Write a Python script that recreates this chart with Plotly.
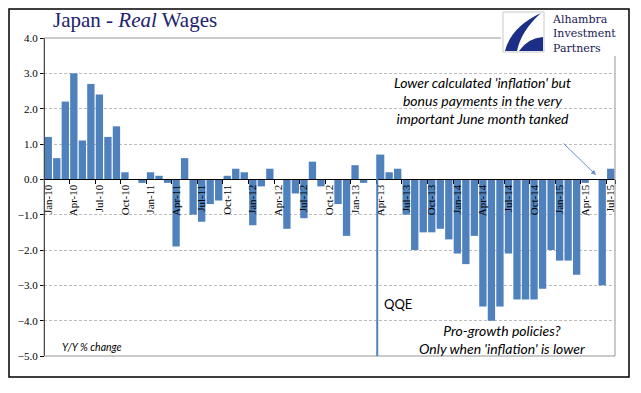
import plotly.graph_objects as go

# ---------------- data ----------------
months = []
for yr in range(10, 16):
    for m in ["Jan", "Feb", "Mar", "Apr", "May", "Jun", "Jul", "Aug", "Sep", "Oct", "Nov", "Dec"]:
        months.append(f"{m}-{yr:02d}")
months = months[:67]  # Jan-10 .. Jul-15

real_wages_2010 = [1.2, 0.6, 2.2, 3.0, 1.1, 2.7, 2.4, 1.2, 1.5, 0.2, 0.0, -0.1]
real_wages_2011 = [0.2, 0.1, -0.1, -1.9, 0.6, -1.0, -1.2, -0.7, -0.6, 0.1, 0.3, 0.2]
real_wages_2012 = [-1.3, -0.2, 0.3, 0.0, -1.4, -0.4, -1.1, 0.5, -0.2, 0.0, -0.7, -1.6]
real_wages_2013 = [0.4, -0.1, 0.0, 0.7, 0.2, 0.3, -1.0, -2.0, -1.5, -1.5, -1.4, -1.7]
real_wages_2014 = [-2.1, -2.4, -1.6, -3.6, -4.0, -3.6, -2.1, -3.4, -3.4, -3.4, -3.1, -2.0]
real_wages_2015 = [-2.3, -2.3, -2.7, -0.1, 0.0, -3.0, 0.3]
values = (real_wages_2010 + real_wages_2011 + real_wages_2012 +
          real_wages_2013 + real_wages_2014 + real_wages_2015)

tick_labels = months[::3]
y_ticks = [4, 3, 2, 1, 0, -1, -2, -3, -4, -5]
qqe_month = "Apr-13"

# ---------------- geometry helpers ----------------
W, H = 641, 393
L, R, T, B = 44, 615, 38, 356


def px(x):
    return (x - L) / (R - L)


def py(y):
    return (B - y) / (B - T)


def path(cmds):
    out = []
    for c in cmds:
        if c[0] in ("M", "L"):
            out.append(f"{c[0]} {px(c[1]):.5f},{py(c[2]):.5f}")
        elif c[0] == "Q":
            out.append(f"Q {px(c[1]):.5f},{py(c[2]):.5f} {px(c[3]):.5f},{py(c[4]):.5f}")
        elif c[0] == "Z":
            out.append("Z")
    return " ".join(out)


BAR = "#4F81BD"
NAVY = "#22226e"
SANS = "Lato, 'Open Sans', sans-serif"
SERIF = "'Liberation Serif', 'DejaVu Serif', serif"

fig = go.Figure()
fig.add_trace(go.Bar(x=months, y=values, marker=dict(color=BAR, line=dict(width=0)),
                     hoverinfo="x+y"))

qqe_idx = months.index(qqe_month) - 0.4

fig.update_layout(
    width=W, height=H,
    margin=dict(l=L, r=W - R, t=T, b=H - B),
    paper_bgcolor="white", plot_bgcolor="white",
    showlegend=False, bargap=0.14,
    xaxis=dict(type="category", categoryorder="array", categoryarray=months,
               tickmode="array", tickvals=tick_labels, ticktext=tick_labels,
               tickangle=-90, anchor="free", position=5 / 9,
               showline=True, linecolor="black", linewidth=1,
               ticks="outside", ticklen=4, tickcolor="black", tickson="boundaries",
               showgrid=False, zeroline=False,
               tickfont=dict(family=SERIF, size=11, color="black"),
               range=[-0.5, len(months) - 0.5], fixedrange=True),
    yaxis=dict(range=[-5, 4], tickvals=y_ticks, tickformat=".1f",
               anchor="free", position=0,
               showline=True, linecolor="black", linewidth=1,
               ticks="outside", ticklen=4, tickcolor="black",
               showgrid=True, gridcolor="#BDBDBD", griddash="3px,2px", gridwidth=1,
               zeroline=False,
               tickfont=dict(family=SERIF, size=11, color="black"), fixedrange=True),
)

shapes = []
# plot area border (grey)
shapes.append(dict(type="rect", xref="paper", yref="paper", x0=0, x1=1, y0=0, y1=1,
                   line=dict(color="#969696", width=1), layer="above"))
# outer frame
shapes.append(dict(type="rect", xref="paper", yref="paper",
                   x0=px(9), x1=px(629), y0=py(377), y1=py(9),
                   line=dict(color="black", width=1.5)))
# QQE vertical line
shapes.append(dict(type="line", xref="x", yref="y", x0=qqe_idx, x1=qqe_idx, y0=0.7, y1=-5,
                   line=dict(color=BAR, width=2), layer="above"))
# white backing for the logo area
shapes.append(dict(type="rect", xref="paper", yref="paper",
                   x0=px(501), x1=px(628), y0=py(56), y1=py(10),
                   fillcolor="white", line=dict(width=0), layer="above"))
# logo box
shapes.append(dict(type="rect", xref="paper", yref="paper",
                   x0=px(503), x1=px(544), y0=py(52), y1=py(12),
                   fillcolor="white", line=dict(color="#C8C8C8", width=1), layer="above"))
# logo swoosh
shapes.append(dict(type="path", xref="paper", yref="paper", layer="above",
                   path=path([("M", 505, 51), ("Q", 511, 27, 541, 13),
                              ("Q", 521, 31, 517, 51), ("Z",)]),
                   fillcolor="#1c2f86", line=dict(width=0)))
shapes.append(dict(type="path", xref="paper", yref="paper", layer="above",
                   path=path([("M", 519, 51), ("Q", 528, 38, 543, 37),
                              ("L", 543, 51), ("Z",)]),
                   fillcolor="#1c2f86", line=dict(width=0)))
fig.update_layout(shapes=shapes)

ann = []
# title
ann.append(dict(text="Japan - <i>Real</i> Wages", xref="paper", yref="paper",
                x=px(51), y=py(20), xanchor="left", yanchor="middle", showarrow=False,
                font=dict(family=SERIF, size=21, color=NAVY)))
# logo text
ann.append(dict(text="Alhambra<br>Investment<br>Partners", xref="paper", yref="paper",
                x=px(550), y=py(34), xanchor="left", yanchor="middle", align="left",
                showarrow=False,
                font=dict(family="'DejaVu Serif', serif", size=11, color="#1a1a55")))
# comment upper right
ann.append(dict(text="<i>Lower calculated 'inflation' but<br>bonus payments in the very<br>important June month tanked</i>",
                xref="paper", yref="paper", x=px(482), y=py(101), xanchor="center", yanchor="middle",
                align="center", showarrow=False, font=dict(family=SANS, size=14, color="black")))
# arrow
ann.append(dict(text="", xref="paper", yref="paper", x=px(596), y=py(175),
                ax=-34, ay=-33, showarrow=True, arrowhead=2, arrowsize=1, arrowwidth=1,
                arrowcolor="#6a8fc4"))
# QQE label
ann.append(dict(text="QQE", xref="paper", yref="paper", x=px(382), y=py(304),
                xanchor="left", yanchor="middle", showarrow=False,
                font=dict(family=SANS, size=13, color="black")))
# lower comment
ann.append(dict(text="<i>Pro-growth policies?<br>Only when 'inflation' is lower</i>",
                xref="paper", yref="paper", x=px(502), y=py(339.5), xanchor="center", yanchor="middle",
                align="center", showarrow=False, font=dict(family=SANS, size=14, color="black")))
# unit label
ann.append(dict(text="<i>Y/Y % change</i>", xref="paper", yref="paper", x=px(60), y=py(347),
                xanchor="left", yanchor="middle", showarrow=False,
                font=dict(family=SANS, size=10.5, color="black")))
fig.update_layout(annotations=ann)

fig.write_html("out.html", config={"displayModeBar": False},
               post_script="document.body.style.margin='0';")
